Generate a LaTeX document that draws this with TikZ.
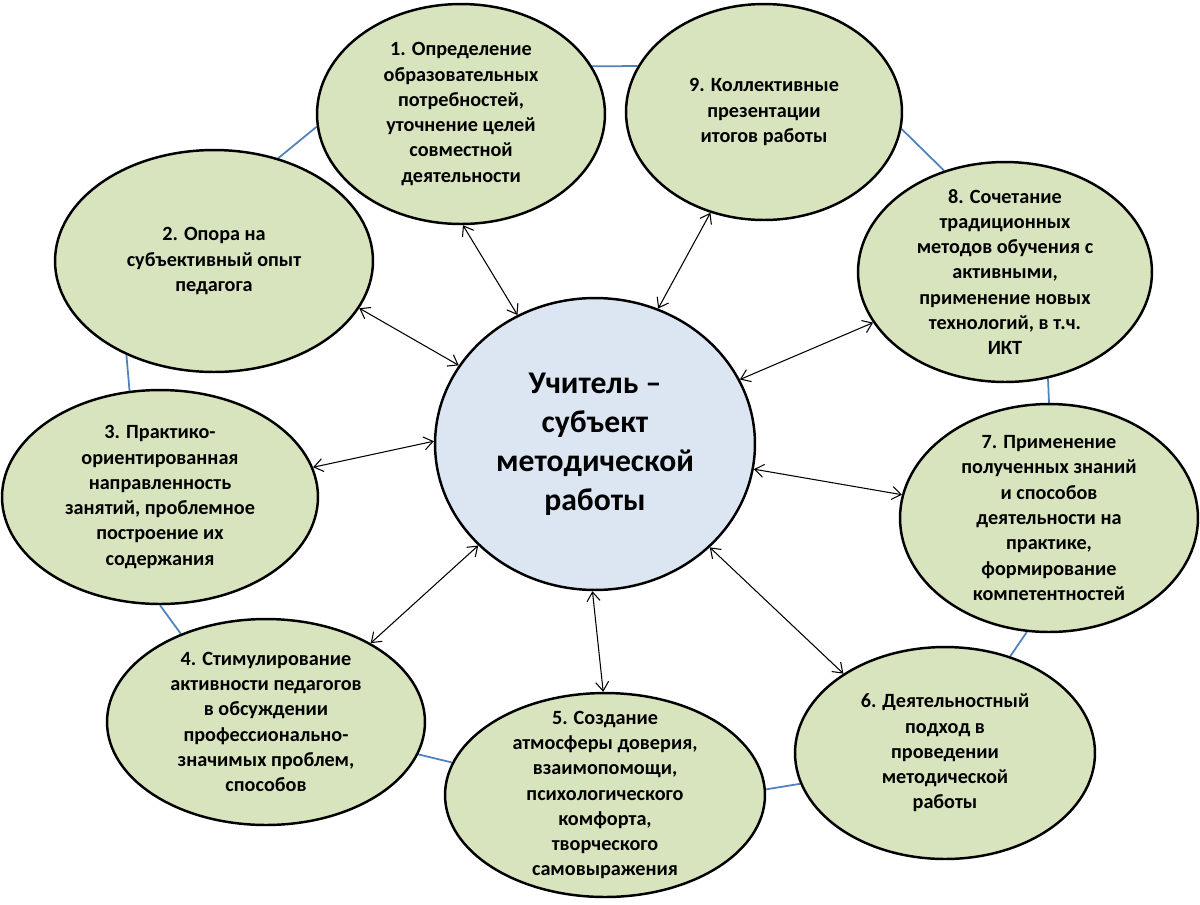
\documentclass[tikz,border=0pt]{standalone}
\usepackage{fontspec}
\setmainfont{Carlito}
\usetikzlibrary{arrows.meta,shapes.geometric,backgrounds}
\definecolor{ideagreen}{HTML}{D7E4BD}
\definecolor{hubblue}{HTML}{DCE6F2}
\definecolor{ringblue}{HTML}{4F81BD}

\begin{document}
\begin{tikzpicture}[
  x=0.02cm,y=-0.02cm,
  idea/.style={ellipse,draw,line width=1.4pt,fill=ideagreen,inner sep=-2cm,align=center,
               font=\bfseries\fontsize{11.5}{14.4}\selectfont},
  hub/.style={ellipse,draw,line width=1.4pt,fill=hubblue,inner sep=-2cm,align=center,
              font=\bfseries\fontsize{18}{22.2}\selectfont},
  arr/.style={{Straight Barb[length=1.8mm,width=2.6mm]}-{Straight Barb[length=1.8mm,width=2.6mm]},line width=0.6pt},
  ring/.style={draw=ringblue,line width=1pt}
]
  \useasboundingbox (0,0) rectangle (1200,904);

  % Nodes: teacher in the middle, nine ideas round it
  \node[hub,minimum width=6.4cm,minimum height=5.84cm] (teacher) at (595,444)
    {Учитель –\\субъект\\методической\\работы};

  \node[idea,minimum width=5.76cm,minimum height=4.4cm] (p1) at (461,114)
    {1. Определение\\образовательных\\потребностей,\\уточнение целей\\совместной\\деятельности};
  \node[idea,minimum width=6.36cm,minimum height=4.44cm] (p2) at (214,261)
    {2. Опора на\\субъективный опыт\\педагога};
  \node[idea,minimum width=6.32cm,minimum height=4.28cm] (p3) at (160,497)
    {3. Практико-\\ориентированная\\направленность\\занятий, проблемное\\построение их\\содержания};
  \node[idea,minimum width=6.36cm,minimum height=4.12cm] (p4) at (266,722)
    {4. Стимулирование\\активности педагогов\\в обсуждении\\профессионально-\\значимых проблем,\\способов};
  \node[idea,minimum width=6.4cm,minimum height=4.08cm] (p5) at (605,795)
    {5. Создание\\атмосферы доверия,\\взаимопомощи,\\психологического\\комфорта,\\творческого\\самовыражения};
  \node[idea,minimum width=6cm,minimum height=4.24cm] (p6) at (945,753)
    {6. Деятельностный\\подход в\\проведении\\методической\\работы};
  \node[idea,minimum width=5.96cm,minimum height=4.56cm] (p7) at (1049,518)
    {7. Применение\\полученных знаний\\и способов\\деятельности на\\практике,\\формирование\\компетентностей};
  \node[idea,minimum width=5.88cm,minimum height=4.4cm] (p8) at (1005,272)
    {8. Сочетание\\традиционных\\методов обучения с\\активными,\\применение новых\\технологий, в т.ч.\\ИКТ};
  \node[idea,minimum width=5.52cm,minimum height=4.32cm] (p9) at (764,112)
    {9. Коллективные\\презентации\\итогов работы};

  % ring behind the ideas
  \begin{scope}[on background layer]
    \draw[ring] (p1.20) -- (p9.160);
    \draw[ring] (p9.353) -- (p8.121);
    \draw[ring] (p8.292) -- (p7.90);
    \draw[ring] (p7.259) -- (p6.56);
    \draw[ring] (p6.192) -- (p5.2);
    \draw[ring] (p5.168) -- (p4.348);
    \draw[ring] (p4.134) -- (p3.270);
    \draw[ring] (p3.106) -- (p2.227);
    \draw[ring] (p2.58) -- (p1.185);
  \end{scope}

  % two-way arrows: each idea <-> teacher
  \draw[arr] (p1.271) -- (teacher.121);
  \draw[arr] (p2.342) -- (teacher.150);
  \draw[arr] (p3.11) -- (teacher.179);
  \draw[arr] (p4.37) -- (teacher.221);
  \draw[arr] (p5.91) -- (teacher.269);
  \draw[arr] (p6.142) -- (teacher.318);
  \draw[arr] (p7.171) -- (teacher.351);
  \draw[arr] (p8.201) -- (teacher.24);
  \draw[arr] (p9.242) -- (teacher.65);
\end{tikzpicture}
\end{document}
